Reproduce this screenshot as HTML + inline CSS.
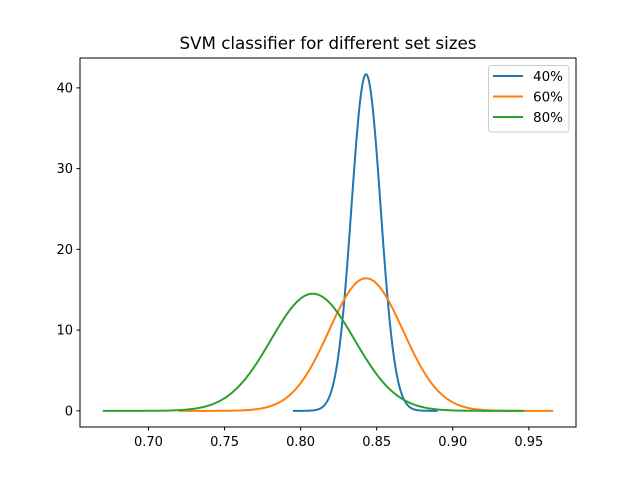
<!DOCTYPE html>
<html><head><meta charset="utf-8"><style>
body{margin:0;background:#fff}
svg{display:block;font-family:"DejaVu Sans","Liberation Sans",sans-serif}
</style></head><body>
<svg id="chart" width="640" height="480" viewBox="0 0 640 480" xmlns="http://www.w3.org/2000/svg">
<rect width="640" height="480" fill="#fff"/>
<text x="328" y="49" font-size="16.7" text-anchor="middle" fill="#000">SVM classifier for different set sizes</text>
<g id="marks"></g>
<g id="axes"></g>
<rect x="80" y="58" width="496" height="369" fill="none" stroke="#000" stroke-width="1"/>
<g>
<rect x="488.5" y="65.5" width="80.5" height="66.5" rx="3" fill="#fff" fill-opacity="0.8" stroke="#ccc"/>
<g id="legend-items"></g>
</g>
</svg>
<script>
const labels = ["40%", "60%", "80%"];
const colors = ["#1f77b4", "#ff7f0e", "#2ca02c"];
const means = [0.843, 0.843, 0.808];
const stds = [0.00957, 0.0243, 0.0275];
const xMins = [0.795, 0.720, 0.670];
const xMaxs = [0.890, 0.966, 0.947];
const xTicks = [0.70, 0.75, 0.80, 0.85, 0.90, 0.95];
const yTicks = [0, 10, 20, 30, 40];

const X0=80,X1=576,Y0=427,Y1=58;
const xmin=0.655,xmax=0.981,ymin=-2.0,ymax=43.7;
const sx=v=>X0+(v-xmin)/(xmax-xmin)*(X1-X0);
const sy=v=>Y0-(v-ymin)/(ymax-ymin)*(Y0-Y1);
const NS="http://www.w3.org/2000/svg";
const marks=document.getElementById('marks'), axes=document.getElementById('axes'), leg=document.getElementById('legend-items');
function mk(t,a,p){const e=document.createElementNS(NS,t);for(const k in a)e.setAttribute(k,a[k]);p.appendChild(e);return e;}
labels.forEach((lab,i)=>{
  let d="";const N=300;
  for(let j=0;j<=N;j++){const x=xMins[i]+(xMaxs[i]-xMins[i])*j/N;
    const y=Math.exp(-0.5*((x-means[i])/stds[i])**2)/(stds[i]*Math.sqrt(2*Math.PI));
    d+=(j?"L":"M")+sx(x).toFixed(2)+","+sy(y).toFixed(2);}
  const p=mk('path',{d:d,fill:'none',stroke:colors[i],'stroke-width':2,'stroke-linejoin':'round'},marks);
  
  
  const yy=76+i*20.5;
  const l=mk('line',{x1:493,x2:523,y1:yy,y2:yy,stroke:colors[i],'stroke-width':2},leg);
  
  
  const t=mk('text',{x:533,y:yy+5,'font-size':13.5,fill:'#000'},leg);t.textContent=lab;
  
  
});
xTicks.forEach(v=>{const x=sx(v);
  mk('line',{x1:x,x2:x,y1:427,y2:430.5,stroke:'#000'},axes);
  const t=mk('text',{x:x,y:446,'font-size':13,'text-anchor':'middle',fill:'#000'},axes);t.textContent=v.toFixed(2);
  
  
});
yTicks.forEach(v=>{const y=sy(v);
  mk('line',{x1:76.5,x2:80,y1:y,y2:y,stroke:'#000'},axes);
  const t=mk('text',{x:73,y:y+4.5,'font-size':13,'text-anchor':'end',fill:'#000'},axes);t.textContent=v;
  
  
});
</script>
</body></html>
